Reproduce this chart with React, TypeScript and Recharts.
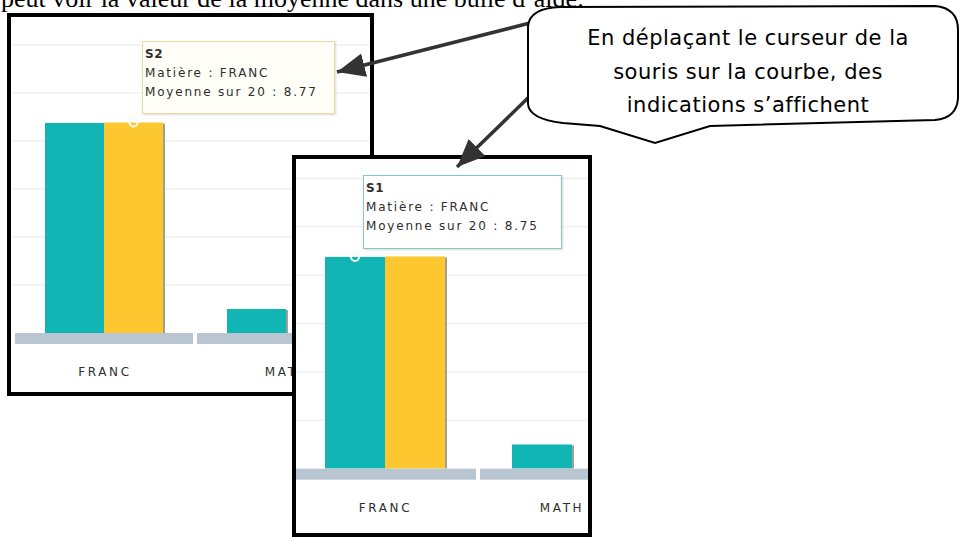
import { Bar, BarChart, CartesianGrid, XAxis, YAxis } from "recharts";

const categories = ["FRANC", "MATH"];
const s1Values = [8.75, 1.0];
const s2Values = [8.77, 0];
const gridTicks = [2, 4, 6, 8, 10, 12];
const bubbleLines = ["En déplaçant le curseur de la", "souris sur la courbe, des", "indications s’affichent"];
const topLine = "peut voir la valeur de la moyenne dans une bulle d’aide.";

const TEAL = "#10B5B4";
const YELLOW = "#FDC82F";
const BAND = "#B9C5D1";
const INK = "#2E2E2E";

const tableData = categories.map((name, i) => ({ name, S1: s1Values[i], S2: s2Values[i] }));

const shadowBar = (p: any) => {
  const { x, y, width, height, fill } = p;
  if (!height) return <g />;
  return (
    <g>
      <rect x={x + width} y={y + 1} width={2} height={height - 1} fill="rgba(90,80,60,0.55)" />
      <rect x={x} y={y} width={width} height={height} fill={fill} />
    </g>
  );
};

const markLabel = (p: any) => {
  if (p.index !== 0) return null;
  return <circle cx={p.x + p.width / 2} cy={p.y} r={4} fill="none" stroke="#F3FBFA" strokeWidth={2} />;
};

type ShotProps = {
  frame: { left: number; top: number; width: number; height: number };
  plotLeft: number;
  baseline: number;
  step: number;
  unit: number;
  barSize: number;
  marked: "S1" | "S2";
  keepLabelsInside?: boolean;
};

const Shot = ({ frame, plotLeft, baseline, step, unit, barSize, marked, keepLabelsInside }: ShotProps) => {
  const yMax = 13.5;
  const plotH = yMax * unit;
  const axisH = 60;
  const innerLeft = frame.left + 4;
  const innerTop = frame.top + 4;
  // right edge of the visible area, in chart coordinates
  const visibleRight = frame.left + frame.width - 4 - plotLeft;

  const bandTick = (p: any) => {
    const cx = keepLabelsInside ? Math.min(p.x + 1, visibleRight - 26) : p.x + 1;
    return (
      <g>
        <rect x={p.x - step / 2 + 2} y={p.y} width={step - 4} height={11} fill={BAND} />
        <text
          x={cx}
          y={p.y + 39}
          textAnchor="middle"
          dominantBaseline="central"
          fill={INK}
          fontSize={12}
          letterSpacing={2.6}
          fontFamily="'DejaVu Sans', Verdana, sans-serif"
        >
          {p.payload.value}
        </text>
      </g>
    );
  };

  return (
    <div
      style={{
        position: "absolute",
        left: frame.left,
        top: frame.top,
        width: frame.width,
        height: frame.height,
        border: "4px solid #000",
        boxSizing: "border-box",
        overflow: "hidden",
        background: "#fff",
      }}
    >
      <div style={{ position: "absolute", left: plotLeft - innerLeft, top: baseline - plotH - innerTop }}>
        <BarChart
          width={step * categories.length}
          height={plotH + axisH}
          data={tableData}
          margin={{ top: 0, right: 0, bottom: 0, left: 0 }}
          barGap={0}
        >
          <CartesianGrid vertical={false} stroke="#EAEAEA" horizontalValues={gridTicks} />
          <XAxis
            dataKey="name"
            height={axisH}
            tickLine={false}
            axisLine={false}
            tickSize={0}
            tickMargin={0}
            interval={0}
            tick={bandTick}
          />
          <YAxis hide domain={[0, yMax]} ticks={gridTicks} allowDataOverflow />
          <Bar
            dataKey="S1"
            fill={TEAL}
            barSize={barSize}
            isAnimationActive={false}
            shape={shadowBar}
            label={marked === "S1" ? markLabel : false}
          />
          <Bar
            dataKey="S2"
            fill={YELLOW}
            barSize={barSize}
            isAnimationActive={false}
            shape={shadowBar}
            label={marked === "S2" ? markLabel : false}
          />
        </BarChart>
      </div>
    </div>
  );
};

const TipBox = ({
  left,
  top,
  width,
  height,
  border,
  bg,
  series,
  value,
}: {
  left: number;
  top: number;
  width: number;
  height: number;
  border: string;
  bg: string;
  series: string;
  value: number;
}) => (
  <div
    style={{
      position: "absolute",
      left,
      top,
      width,
      height,
      boxSizing: "border-box",
      border: `1.5px solid ${border}`,
      background: bg,
      boxShadow: "1px 1px 2px rgba(0,0,0,0.15)",
      padding: "3px 2px",
      fontFamily: "'DejaVu Sans', Verdana, sans-serif",
      fontSize: 12,
      lineHeight: "19px",
      letterSpacing: 1.8,
      color: INK,
      whiteSpace: "nowrap",
    }}
  >
    <div style={{ fontWeight: "bold", letterSpacing: 0.5 }}>{series}</div>
    <div>Matière : {categories[0]}</div>
    <div>Moyenne sur 20 : {value}</div>
  </div>
);

const App = () => {
  return (
    <div style={{ position: "absolute", left: 0, top: 0, width: 960, height: 537, overflow: "hidden", background: "#fff" }}>
      <Shot
        frame={{ left: 7, top: 13, width: 367, height: 383 }}
        plotLeft={12.5}
        baseline={333}
        step={182}
        unit={24}
        barSize={59}
        marked="S2"
      />
      <TipBox left={142} top={41} width={193} height={73} border="#EAD9A2" bg="#FFFFF7" series="S2" value={s2Values[0]} />
      <Shot
        frame={{ left: 292, top: 155, width: 300, height: 382 }}
        plotLeft={291}
        baseline={469}
        step={187}
        unit={24.2}
        barSize={60}
        marked="S1"
        keepLabelsInside
      />
      <TipBox left={363} top={175} width={199} height={74} border="#7FC9C8" bg="#FFFFFF" series="S1" value={s1Values[0]} />

      <svg width={960} height={537} style={{ position: "absolute", left: 0, top: 0, pointerEvents: "none" }}>
        <defs>
          <marker id="head" markerUnits="userSpaceOnUse" markerWidth={30} markerHeight={26} refX={28} refY={12} orient="auto">
            <path d="M0,0 L28,12 L0,24 Z" fill="#333" />
          </marker>
        </defs>
        <text x={1} y={7} fontFamily="'Liberation Serif', 'Times New Roman', serif" fontSize={26} fill="#000">
          {topLine}
        </text>
        <line x1={530} y1={23} x2={337} y2={72} stroke="#333" strokeWidth={3.5} markerEnd="url(#head)" />
        <line x1={530} y1={96} x2={457} y2={167} stroke="#333" strokeWidth={3.5} markerEnd="url(#head)" />
        <path
          d="M528 26 Q530 8 560 7 L935 6 Q958 8 958 30 L958 98 Q957 118 935 120 L710 126 L655 143 L600 126 L563 123 Q529 119 528 104 Z"
          fill="#fff"
          stroke="#000"
          strokeWidth={2}
        />
        {bubbleLines.map((line, i) => (
          <text
            key={line}
            x={748}
            y={45 + i * 33.5}
            textAnchor="middle"
            fontFamily="'DejaVu Sans', sans-serif"
            fontSize={21}
            letterSpacing={0.5}
            fill="#000"
          >
            {line}
          </text>
        ))}
      </svg>
    </div>
  );
};

export default App;
